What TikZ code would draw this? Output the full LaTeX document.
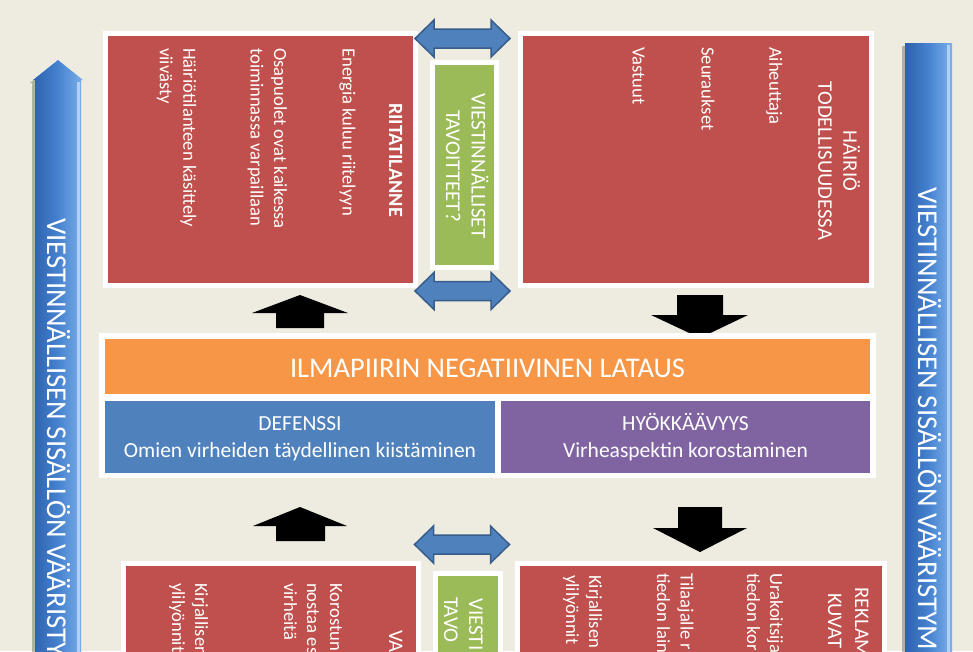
\documentclass[tikz,border=0pt]{standalone}
\usepackage{fontspec}
\setmainfont{Carlito}
\definecolor{bg}{HTML}{EEECE1}
\definecolor{redc}{HTML}{C0504D}
\definecolor{greenc}{HTML}{9BBB59}
\definecolor{orangec}{HTML}{F79646}
\definecolor{bluec}{HTML}{4F81BD}
\definecolor{purplec}{HTML}{8064A2}
\definecolor{arrowedge}{HTML}{385D8A}
\definecolor{bardark}{HTML}{2D62AE}
\definecolor{barmid}{HTML}{4682CF}
\definecolor{barlight}{HTML}{7DB0EA}
\begin{document}
\begin{tikzpicture}[x=1pt,y=-1pt,
  framed/.style={draw=white, line width=5pt, inner sep=0pt},
  redbox/.style={framed, fill=redc},
  greenbox/.style={framed, fill=greenc},
  band/.style={inner sep=0pt},
  vtext/.style={rotate=-90, anchor=base west, inner sep=0pt, text=white, font=\fontsize{18.6}{22}\selectfont},
  vtitle/.style={rotate=-90, anchor=base, inner sep=0pt, text=white, font=\fontsize{20.7}{25}\selectfont},
  vtitlestart/.style={rotate=-90, anchor=base west, inner sep=0pt, text=white, font=\fontsize{20.7}{25}\selectfont},
  gtext/.style={rotate=-90, anchor=base, inner sep=0pt, text=white, font=\fontsize{21}{25}\selectfont},
  gtextstart/.style={rotate=-90, anchor=base west, inner sep=0pt, text=white, font=\fontsize{21}{25}\selectfont},
  bartext/.style={rotate=-90, anchor=base west, inner sep=0pt, text=white, font=\fontsize{28.7}{32}\selectfont},
  htext/.style={anchor=base, inner sep=0pt, text=white, font=\fontsize{21.5}{26}\selectfont},
  blockarrow/.style={fill=black},
  dblstyle/.style={fill=bluec, draw=arrowedge, line width=1.5pt, line join=miter},
  barshade/.style={left color=bardark, right color=barlight, middle color=barmid},
  barshadow/.style={fill=black, opacity=0.25},
  dblarr/.pic={\draw[dblstyle] (-47.5,0) -- (-28.5,-18.5) -- (-28.5,-9.5) -- (28.5,-9.5) -- (28.5,-18.5) -- (47.5,0) -- (28.5,18.5) -- (28.5,9.5) -- (-28.5,9.5) -- (-28.5,18.5) -- cycle;}
]
\useasboundingbox (0,0) rectangle (973,651);
\clip (0,0) rectangle (973,651);
\fill[bg] (0,0) rectangle (973,651);

% side bars
\fill[barshadow] (32,700) -- (32,83) -- (30,83) -- (55,63) -- (80,83) -- (78,83) -- (78,700) -- cycle;
\shade[barshade] (35,700) -- (35,80) -- (33,80) -- (58,60) -- (83,80) -- (81,80) -- (81,700) -- cycle;
\fill[barlight!60!white] (77,82) rectangle (80,700);
\fill[barshadow] (902,46) rectangle (949,700);
\shade[barshade] (905,43) rectangle (952,700);
\fill[barlight!60!white] (947,45) rectangle (950,700);
\node[bartext] (leftbar) at (47,218) {VIESTINNÄLLISEN SISÄLLÖN VÄÄRISTY};
\node[bartext] (rightbar) at (918,187) {VIESTINNÄLLISEN SISÄLLÖN VÄÄRISTYM};

% top boxes
\node[redbox, minimum width=310, minimum height=252] (riita) at (260.5,159.5) {};
\node[redbox, minimum width=351, minimum height=252] (hairio) at (696,159.5) {};
\node[greenbox, minimum width=64, minimum height=205] (tav1) at (464.5,165) {};

\node[vtitle, font=\fontsize{20.2}{25}\selectfont\bfseries] (riitat) at (389,160) {RIITATILANNE};
\node[vtext] (r1) at (342.7,48) {Energia kuluu riitelyyn};
\node[vtext] (r2a) at (274,48) {Osapuolet ovat kaikessa};
\node[vtext] (r2b) at (250.5,48) {toiminnassa varpaillaan};
\node[vtext] (r3a) at (183.3,48) {Häiriötilanteen käsittely};
\node[vtext] (r3b) at (159.8,48) {viivästy};

\node[vtitle] (h0a) at (843.3,161) {HÄIRIÖ};
\node[vtitle] (h0b) at (818.3,161) {TODELLISUUDESSA};
\node[vtext] (h1) at (769.3,47) {Aiheuttaja};
\node[vtext] (h2) at (701.7,47) {Seuraukset};
\node[vtext] (h3) at (632.7,47) {Vastuut};

\node[gtext] (g1a) at (471.5,166) {VIESTINNÄLLISET};
\node[gtext] (g1b) at (446,166) {TAVOITTEET?};

% double arrows
\pic at (462.5,38.5) {dblarr};
\pic at (462.5,291) {dblarr};
\pic at (462,544.5) {dblarr};

% black block arrows
\fill[blockarrow] (276,328) -- (276,313) -- (252,313) -- (300,295) -- (348,313) -- (324,313) -- (324,328) -- cycle;
\fill[blockarrow] (677,295) -- (723,295) -- (723,315) -- (748,315) -- (700,338) -- (651,315) -- (677,315) -- cycle;
\fill[blockarrow] (276,541) -- (276,526) -- (253,526) -- (300,507) -- (347,526) -- (325,526) -- (325,541) -- cycle;
\fill[blockarrow] (678,507) -- (722,507) -- (722,528) -- (747,528) -- (700,552) -- (653,528) -- (678,528) -- cycle;

% central panel
\node[fill=white, inner sep=0pt, minimum width=777, minimum height=145] (panel) at (487.5,405.5) {};
\node[band, fill=orangec, minimum width=765, minimum height=55] (lataus) at (487.5,366.5) {};
\node[band, fill=bluec, minimum width=390, minimum height=72] (defenssi) at (300,437) {};
\node[band, fill=purplec, minimum width=369, minimum height=72] (hyokk) at (685.5,437) {};
\node[inner sep=0pt, text=white, font=\fontsize{28.5}{32}\selectfont] (latext) at (487.5,368.5) {ILMAPIIRIN NEGATIIVINEN LATAUS};
\node[htext] (d1) at (300,430.5) {DEFENSSI};
\node[htext] (d2) at (300,457) {Omien virheiden täydellinen kiistäminen};
\node[htext] (y1) at (685.5,430.5) {HYÖKKÄÄVYYS};
\node[htext] (y2) at (685.5,457) {Virheaspektin korostaminen};

% bottom boxes
\node[redbox, minimum width=295, minimum height=260, anchor=north west] (vbox) at (120.5,560.5) {};
\node[redbox, minimum width=367, minimum height=260, anchor=north west] (rbox) at (514.5,560.5) {};
\node[greenbox, minimum width=65, minimum height=205, anchor=north west] (tav2) at (432.5,570.5) {};

\node[vtitlestart] (va) at (389,630) {VA};
\node[vtext] (k1) at (330,583) {Korostunu};
\node[vtext] (k2) at (307,583) {nostaa esi};
\node[vtext] (k3) at (284,583) {virheitä};
\node[vtext] (k4) at (195,583) {Kirjallisen};
\node[vtext] (k5) at (172,583) {ylilyönnit};

\node[vtitlestart] (re1) at (855,587) {REKLAM};
\node[vtitlestart] (re2) at (828,593) {KUVAT};
\node[vtext] (u1) at (770,573) {Urakoitsija};
\node[vtext] (u2) at (747,573) {tiedon kor};
\node[vtext] (t1) at (680.7,573) {Tilaajalle r};
\node[vtext] (t2) at (657,573) {tiedon lain};
\node[vtext] (j1) at (589,575) {Kirjallisen};
\node[vtext] (j2) at (566,575) {ylilyönnit};

\node[gtextstart] (g2a) at (469,598) {VIESTI};
\node[gtextstart] (g2b) at (444,597) {TAVO};
\end{tikzpicture}
\end{document}
